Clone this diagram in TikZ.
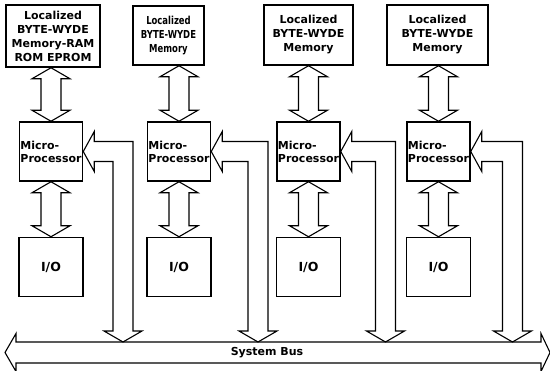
\documentclass[tikz,border=0pt]{standalone}
\usepackage{fontspec}
\setmainfont{DejaVu Sans}
\usetikzlibrary{positioning,calc}

\begin{document}
\begin{tikzpicture}[x=1pt,y=-1pt,node distance=55pt]
  \tikzstyle{box}=[draw,line width=1.5pt,align=center,inner sep=0pt,font=\bfseries\fontsize{11}{14}\selectfont]
  \tikzstyle{cpu}=[box,align=left,minimum width=63pt,minimum height=59pt,font=\bfseries\fontsize{11}{13}\selectfont]
  \tikzstyle{iobox}=[box,minimum width=64pt,minimum height=59pt,font=\bfseries\fontsize{12.5}{14}\selectfont]
  \tikzstyle{fat}=[line width=1.1pt,line join=miter]
  % fat double arrow, top to bottom
  \tikzstyle{dbl}=[fat,to path={let \p1=(\tikztostart),\p2=(\tikztotarget) in
    (\x1,\y1) -- (\x1+19pt,\y1-11pt) -- (\x1+10pt,\y1-11pt) -- (\x1+10pt,\y2+11pt)
    -- (\x1+19pt,\y2+11pt) -- (\x1,\y2) -- (\x1-19pt,\y2+11pt) -- (\x1-10pt,\y2+11pt)
    -- (\x1-10pt,\y1-11pt) -- (\x1-19pt,\y1-11pt) -- cycle}]
  % bent fat arrow, bus tap up to the processor
  \tikzstyle{bent}=[fat,to path={let \p1=(\tikztostart),\p2=(\tikztotarget) in
    (\x2,\y2) -- (\x2+11pt,\y2+20pt) -- (\x2+11pt,\y2+10pt) -- (\x1+10pt,\y2+10pt)
    -- (\x1+10pt,\y1+11pt) -- (\x1+19pt,\y1+11pt) -- (\x1,\y1) -- (\x1-19pt,\y1+11pt)
    -- (\x1-10pt,\y1+11pt) -- (\x1-10pt,\y2-10pt) -- (\x2+11pt,\y2-10pt)
    -- (\x2+11pt,\y2-20pt) -- cycle}]
  \useasboundingbox (0,0) rectangle (550,371);

  \node[box,minimum width=94pt,minimum height=62pt] (mem1) at (53,36) {Localized\\BYTE-WYDE\\Memory-RAM\\ROM EPROM};
  \node[box,minimum width=71pt,minimum height=59pt,font=\bfseries\fontsize{11}{14}\selectfont\addfontfeatures{FakeStretch=0.77}] (mem2) at (168.5,35.5) {Localized\\BYTE-WYDE\\Memory};
  \node[box,minimum width=89pt,minimum height=60pt] (mem3) at (308.5,35) {Localized\\BYTE-WYDE\\Memory};
  \node[box,minimum width=101pt,minimum height=60pt] (mem4) at (437.5,35) {Localized\\BYTE-WYDE\\Memory};

  \node[cpu] (mp1) at (51,151.5) {Micro-\\Processor};
  \node[cpu] (mp2) at (179,151.5) {Micro-\\Processor};
  \node[cpu] (mp3) at (308.5,151.5) {Micro-\\Processor};
  \node[cpu] (mp4) at (438.5,151.5) {Micro-\\Processor};

  \node[iobox,below=of mp1] (io1) {I/O};
  \node[iobox,below=of mp2] (io2) {I/O};
  \node[iobox,below=of mp3] (io3) {I/O};
  \node[iobox,below=of mp4] (io4) {I/O};

  \draw[dbl] (mem1.south -| mp1.north) to (mp1.north);
  \draw[dbl] (mem2.south -| mp2.north) to (mp2.north);
  \draw[dbl] (mem3.south -| mp3.north) to (mp3.north);
  \draw[dbl] (mem4.south -| mp4.north) to (mp4.north);
  \draw[dbl] (mp1.south) to (io1.north);
  \draw[dbl] (mp2.south) to (io2.north);
  \draw[dbl] (mp3.south) to (io3.north);
  \draw[dbl] (mp4.south) to (io4.north);

  % system bus
  \draw[fat] (5,352.5) -- (16,333.5) -- (16,342) -- (541,342) -- (541,333.5) -- (550,352.5)
    -- (541,371.5) -- (541,363) -- (16,363) -- (16,371.5) -- cycle;
  \node[font=\bfseries\fontsize{11}{14}\selectfont] (bus) at (267,352.5) {System Bus};
  \coordinate (tap1) at (123,342);
  \coordinate (tap2) at (258,342);
  \coordinate (tap3) at (385.5,342);
  \coordinate (tap4) at (512.5,342);

  \draw[bent] (tap1) to (mp1.east);
  \draw[bent] (tap2) to (mp2.east);
  \draw[bent] (tap3) to (mp3.east);
  \draw[bent] (tap4) to (mp4.east);
\end{tikzpicture}
\end{document}
